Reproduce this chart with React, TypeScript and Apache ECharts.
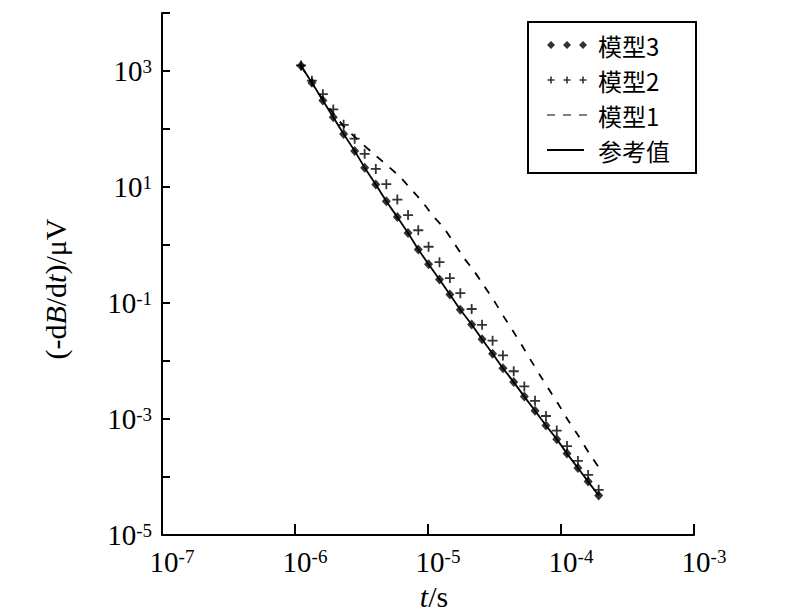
import React, { useEffect, useRef } from "react";
import * as echarts from "echarts";

// time (s) shared by the reference curve, model 3 and model 2
const tValues = [
  1.11e-6, 1.34e-6, 1.62e-6, 1.94e-6, 2.32e-6, 2.81e-6, 3.34e-6, 4.05e-6, 4.86e-6, 5.88e-6,
  7.08e-6, 8.45e-6, 1.01e-5, 1.22e-5, 1.46e-5, 1.75e-5, 2.13e-5, 2.55e-5, 3.06e-5, 3.66e-5,
  4.41e-5, 5.3e-5, 6.38e-5, 7.71e-5, 9.29e-5, 1.11e-4, 1.34e-4, 1.6e-4, 1.92e-4,
];
const referenceValues = [
  1230, 630, 311, 160, 81.8, 42.0, 21.6, 11.1, 5.69, 3.03,
  1.62, 0.841, 0.468, 0.254, 0.141, 0.0769, 0.0427, 0.0237, 0.0134, 0.00752,
  0.00434, 0.00244, 0.00139, 7.73e-4, 4.51e-4, 2.54e-4, 1.43e-4, 8.36e-5, 4.82e-5,
];
const model3Values = [
  1230, 630, 311, 160, 81.8, 42.0, 21.6, 11.1, 5.69, 3.03,
  1.62, 0.841, 0.468, 0.254, 0.141, 0.0769, 0.0427, 0.0237, 0.0134, 0.00752,
  0.00434, 0.00244, 0.00139, 7.73e-4, 4.51e-4, 2.54e-4, 1.43e-4, 8.36e-5, 4.82e-5,
];
const model2Values = [
  1250, 681, 398, 218, 118, 68.1, 37.4, 20.5, 11.2, 6.08,
  3.28, 1.8, 0.935, 0.506, 0.27, 0.148, 0.079, 0.0422, 0.0225, 0.0125,
  0.00668, 0.00366, 0.00206, 0.00113, 6.34e-4, 3.43e-4, 1.9e-4, 1.09e-4, 6.03e-5,
];
// model 1 (dashed curve)
const model1Times = [
  1.11e-6, 1.62e-6, 1.94e-6, 2.32e-6, 2.96e-6, 3.83e-6, 4.83e-6, 6.08e-6, 7.45e-6, 9.12e-6,
  1.084e-5, 1.327e-5, 1.578e-5, 1.875e-5, 2.23e-5, 2.65e-5, 3.15e-5, 3.68e-5, 4.34e-5, 5.09e-5,
  5.94e-5, 6.95e-5, 8.17e-5, 9.62e-5, 1.143e-4, 1.359e-4, 1.614e-4, 1.93e-4,
];
const model1Values = [
  1230, 320, 187, 112, 65.5, 38.8, 24.5, 15.4, 9.21, 5.47,
  3.24, 1.92, 1.06, 0.591, 0.351, 0.195, 0.108, 0.0601, 0.0334, 0.0185,
  0.01028, 0.0057, 0.00317, 0.00176, 9.14e-4, 5.07e-4, 2.64e-4, 1.46e-4,
];

const seriesNames = ["模型3", "模型2", "模型1", "参考值"];
const xAxisName = "{i|t}/s";
const yAxisName = "(-d{i|B}/d{i|t})/μV";

const pair = (ts: number[], vs: number[]) => ts.map((t, i) => [t, vs[i]]);

const diamondIcon =
  "path://M4 0L8 4L4 8L0 4Z M20 0L24 4L20 8L16 4Z M36 0L40 4L36 8L32 4Z";
const plusAt = (cx: number) =>
  `M${cx - 0.8} 0.5h1.6v2.7h2.7v1.6h-2.7v2.7h-1.6v-2.7h-2.7v-1.6h2.7z`;
const plusIcon = "path://M0 0L0 0Z M40 8L40 8Z " + plusAt(4) + " " + plusAt(20) + " " + plusAt(36);
const dashIcon =
  "path://M0 0L0 0Z M40 8L40 8Z M0 3.4h8v1.2h-8z M16 3.4h8v1.2h-8z M32 3.4h8v1.2h-8z";
const solidIcon = "path://M0 0L0 0Z M40 8L40 8Z M0 3.1h37v1.8h-37z";
const plusSymbol = "path://M4.1 0h1.8v4.1h4.1v1.8h-4.1v4.1h-1.8v-4.1h-4.1v-1.8h4.1z";

const SERIF = "'Liberation Serif', 'Times New Roman', serif";
const CJK = "'Noto Sans CJK SC', sans-serif";

const expOf = (v: number) => Math.round(Math.log10(v));

export default function App() {
  const ref = useRef<HTMLDivElement>(null);
  useEffect(() => {
    document.body.style.margin = "0";
    if (!ref.current) return;
    const chart = echarts.init(ref.current, undefined, { renderer: "svg" });
    const richLabel = {
      sp: { width: 20, fontSize: 29, lineHeight: 29 },
      b: { fontSize: 29, lineHeight: 29, fontFamily: SERIF, color: "#000" },
      s: { fontSize: 19, lineHeight: 22, verticalAlign: "top", fontFamily: SERIF, color: "#000" },
    };
    chart.setOption({
      animation: false,
      backgroundColor: "#fff",
      grid: { left: 162, top: 13, width: 532, height: 527, containLabel: false },
      legend: {
        orient: "vertical",
        left: 528,
        top: 22,
        padding: [11, 26, 11, 19],
        itemGap: 11,
        itemWidth: 40,
        itemHeight: 8,
        selectedMode: false,
        borderColor: "#000",
        borderWidth: 2,
        backgroundColor: "#fff",
        itemStyle: { color: "#000", borderWidth: 0 },
        textStyle: {
          fontFamily: CJK,
          fontSize: 24,
          lineHeight: 24,
          color: "#000",
          padding: [0, 0, 0, 6],
        },
        data: [
          { name: seriesNames[0], icon: diamondIcon },
          { name: seriesNames[1], icon: plusIcon },
          { name: seriesNames[2], icon: dashIcon },
          { name: seriesNames[3], icon: solidIcon },
        ],
      },
      xAxis: {
        type: "log",
        logBase: 10,
        min: 1e-7,
        max: 1e-3,
        interval: 1,
        splitNumber: 4,
        splitLine: { show: false },
        minorTick: { show: false },
        axisLine: { show: true, lineStyle: { color: "#000", width: 2 } },
        axisTick: { show: true, inside: true, length: 11, lineStyle: { color: "#000", width: 2 } },
        axisLabel: {
          margin: 12,
          formatter: (v: number) => `{sp|}{b|10}{s|${expOf(v)}}`,
          rich: richLabel,
        },
        name: xAxisName,
        nameLocation: "middle",
        nameGap: 44,
        nameTextStyle: {
          fontFamily: SERIF,
          fontSize: 30,
          color: "#000",
          padding: [0, 0, 0, 12],
          rich: { i: { fontFamily: SERIF, fontSize: 30, fontStyle: "italic", color: "#000" } },
        },
      },
      yAxis: {
        type: "log",
        logBase: 10,
        min: 1e-5,
        max: 1e4,
        interval: 1,
        splitNumber: 9,
        splitLine: { show: false },
        minorTick: { show: false },
        axisLine: { show: true, lineStyle: { color: "#000", width: 2 } },
        axisTick: { show: true, inside: true, length: 8, lineStyle: { color: "#000", width: 2 } },
        axisLabel: {
          margin: 10,
          formatter: (v: number) => {
            const e = expOf(v);
            return Math.abs(e) % 2 === 1 ? `{b|10}{s|${e}}` : "";
          },
          rich: richLabel,
        },
        name: yAxisName,
        nameLocation: "middle",
        nameGap: 92,
        nameTextStyle: {
          fontFamily: SERIF,
          fontSize: 30,
          color: "#000",
          padding: [0, 30, 0, 0],
          rich: { i: { fontFamily: SERIF, fontSize: 30, fontStyle: "italic", color: "#000" } },
        },
      },
      series: [
        {
          name: seriesNames[3],
          type: "line",
          data: pair(tValues, referenceValues),
          symbol: "none",
          lineStyle: { color: "#000", width: 1.8 },
          itemStyle: { color: "#000" },
          z: 2,
        },
        {
          name: seriesNames[2],
          type: "line",
          data: pair(model1Times, model1Values),
          symbol: "none",
          smooth: 0.2,
          lineStyle: { color: "#000", width: 1.8, type: [8, 9] },
          itemStyle: { color: "#000" },
          z: 2,
        },
        {
          name: seriesNames[1],
          type: "scatter",
          data: pair(tValues, model2Values),
          symbol: plusSymbol,
          symbolSize: 10,
          itemStyle: { color: "#000" },
          z: 3,
        },
        {
          name: seriesNames[0],
          type: "scatter",
          data: pair(tValues, model3Values),
          symbol: "diamond",
          symbolSize: [9, 10],
          itemStyle: { color: "#000" },
          z: 4,
        },
      ],
    });
    return () => chart.dispose();
  }, []);
  return <div ref={ref} style={{ width: 794, height: 616 }} />;
}
